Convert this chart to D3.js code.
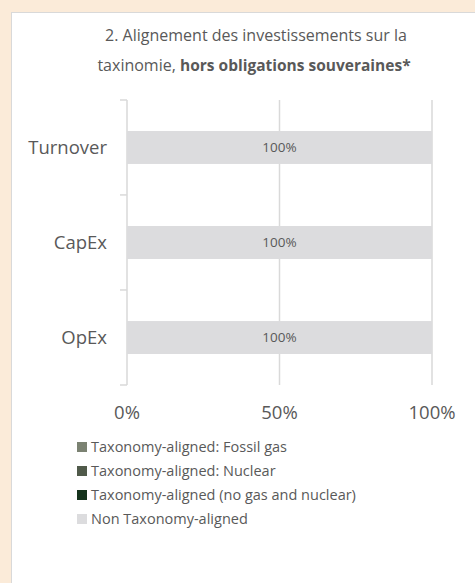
<!DOCTYPE html>
<html>
<head>
<meta charset="utf-8">
<script src="https://cdn.jsdelivr.net/npm/d3@7"></script>
<style>
  body { margin: 0; background: #fbebd9; }
  #chart { width: 475px; height: 583px; }
  text { font-family: "Open Sans", sans-serif; fill: #595959; }
</style>
</head>
<body>
<div id="chart"></div>
<script>
var categories = ["Turnover", "CapEx", "OpEx"];
var seriesNames = ["Taxonomy-aligned: Fossil gas", "Taxonomy-aligned: Nuclear",
    "Taxonomy-aligned (no gas and nuclear)", "Non Taxonomy-aligned"];
var seriesColors = ["#7b8272", "#505a4a", "#15331c", "#dcdcde"];
var fossilGas = [0, 0, 0];
var nuclear = [0, 0, 0];
var alignedOther = [0, 0, 0];
var nonAligned = [100, 100, 100];
var xTicks = [0, 50, 100];

var width = 475, height = 583;

var svg = d3.select("#chart").append("svg")
    .attr("width", width)
    .attr("height", height);

// white panel
svg.append("rect")
    .attr("x", 11.5).attr("y", 12.5)
    .attr("width", 480).attr("height", 600)
    .attr("fill", "#fff")
    .attr("stroke", "#d9d9d9");

// title
var title = svg.append("text")
    .attr("text-anchor", "middle")
    .style("font-size", "16px");
title.append("tspan").attr("x", 256).attr("y", 41)
    .text("2. Alignement des investissements sur la");
var l2 = title.append("tspan").attr("x", 254).attr("y", 71);
l2.append("tspan").text("taxinomie, ");
l2.append("tspan").style("font-weight", "bold").style("font-size", "15.5px")
    .text("hors obligations souveraines*");

var x = d3.scaleLinear().domain([0, 100]).range([127, 432]);
var y = d3.scaleBand().domain(categories).range([100, 385])
    .paddingInner(0.653).paddingOuter(0.326);

// gridlines
svg.append("g").selectAll("line")
    .data(xTicks.slice(1))
    .join("line")
    .attr("x1", d => x(d)).attr("x2", d => x(d))
    .attr("y1", 100).attr("y2", 385)
    .attr("stroke", "#d9d9d9").attr("stroke-width", 1.5);

// category axis line + ticks between categories
var yAxis = svg.append("g");
yAxis.append("line")
    .attr("x1", x(0)).attr("x2", x(0))
    .attr("y1", 100).attr("y2", 385)
    .attr("stroke", "#d9d9d9").attr("stroke-width", 1.5);
var bounds = [100].concat(categories.map(c => y(c) + y.bandwidth() + y.step() * 0.326));
yAxis.selectAll("line.tk")
    .data(bounds)
    .join("line").attr("class", "tk")
    .attr("x1", x(0) - 7).attr("x2", x(0))
    .attr("y1", d => d).attr("y2", d => d)
    .attr("stroke", "#d9d9d9").attr("stroke-width", 1.5);
yAxis.selectAll("text")
    .data(categories)
    .join("text")
    .attr("x", 107)
    .attr("y", d => y(d) + y.bandwidth() / 2)
    .attr("dy", "0.35em")
    .attr("text-anchor", "end")
    .style("font-size", "18.5px")
    .text(d => d);

// stacked bars
var rows = categories.map(function (c, i) {
    return { cat: c, s0: fossilGas[i], s1: nuclear[i], s2: alignedOther[i], s3: nonAligned[i] };
});
var stack = d3.stack().keys(["s0", "s1", "s2", "s3"])(rows);

svg.append("g").selectAll("g")
    .data(stack)
    .join("g")
    .attr("fill", (d, i) => seriesColors[i])
    .selectAll("rect")
    .data(d => d)
    .join("rect")
    .attr("x", d => x(d[0]))
    .attr("y", d => y(d.data.cat))
    .attr("width", d => x(d[1]) - x(d[0]))
    .attr("height", y.bandwidth());

// value labels
svg.append("g").selectAll("text")
    .data(stack[3].filter(d => d[1] - d[0] > 0))
    .join("text")
    .attr("x", d => (x(d[0]) + x(d[1])) / 2)
    .attr("y", d => y(d.data.cat) + y.bandwidth() / 2)
    .attr("dy", "0.35em")
    .attr("text-anchor", "middle")
    .style("font-size", "13.5px")
    .text(d => (d[1] - d[0]) + "%");

// x tick labels
svg.append("g").selectAll("text")
    .data(xTicks)
    .join("text")
    .attr("x", d => x(d))
    .attr("y", 413)
    .attr("dy", "0.35em")
    .attr("text-anchor", "middle")
    .style("font-size", "18.5px")
    .text(d => d + "%");

// legend
var legend = svg.append("g").selectAll("g")
    .data(seriesNames)
    .join("g")
    .attr("transform", (d, i) => "translate(77," + (447 + i * 24) + ")");
legend.append("rect")
    .attr("x", 0).attr("y", -5)
    .attr("width", 10).attr("height", 10)
    .attr("fill", (d, i) => seriesColors[i]);
legend.append("text")
    .attr("x", 14).attr("y", 0)
    .attr("dy", "0.35em")
    .style("font-size", "14.5px")
    .text(d => d);
</script>
</body>
</html>
